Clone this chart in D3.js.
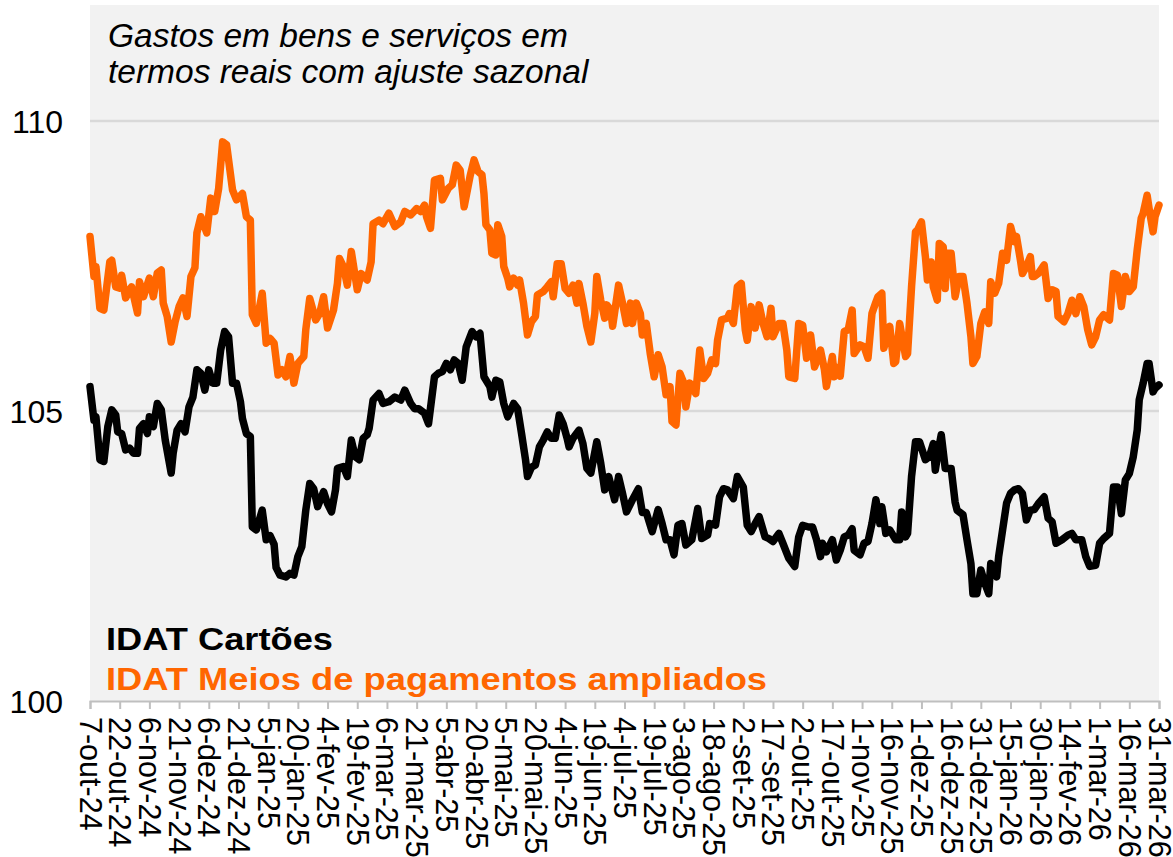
<!DOCTYPE html>
<html>
<head>
<meta charset="utf-8">
<script src="https://cdn.jsdelivr.net/npm/d3@7"></script>
<style>
	body { margin: 0; background: #ffffff; }
	text { font-family: "Liberation Sans", Arial, sans-serif; }
</style>
</head>
<body>
<div id="chart"></div>
<script>

// days counted from 7-out-24
const startDate = new Date(2024, 9, 7);
const endDate = new Date(2026, 2, 31);

const tickLabels = ["7-out-24", "22-out-24", "6-nov-24", "21-nov-24", "6-dez-24", "21-dez-24",
	"5-jan-25", "20-jan-25", "4-fev-25", "19-fev-25", "6-mar-25", "21-mar-25", "5-abr-25",
	"20-abr-25", "5-mai-25", "20-mai-25", "4-jun-25", "19-jun-25", "4-jul-25", "19-jul-25",
	"3-ago-25", "18-ago-25", "2-set-25", "17-set-25", "2-out-25", "17-out-25", "1-nov-25",
	"16-nov-25", "1-dez-25", "16-dez-25", "31-dez-25", "15-jan-26", "30-jan-26", "14-fev-26",
	"1-mar-26", "16-mar-26", "31-mar-26"];
const tickStep = 15;
const yTicks = [100, 105, 110];

const titleLines = ["Gastos em bens e serviços em", "termos reais com ajuste sazonal"];
const seriesNames = ["IDAT Cartões", "IDAT Meios de pagamentos ampliados"];

// IDAT Meios de pagamentos ampliados
const orangeDays = [0, 2, 3, 5, 7, 10, 11, 13, 15, 16, 18, 21, 24, 25, 27, 30, 32, 34, 36, 37,
	39, 41, 43, 45, 47, 49, 51, 53, 54, 56, 59, 61, 63, 65, 67, 69, 72, 74, 77, 79,
	81, 82, 84, 87, 89, 91, 93, 95, 97, 99, 101, 103, 105, 108, 109, 111, 114, 116, 118, 120,
	123, 125, 126, 128, 130, 132, 135, 137, 140, 142, 143, 146, 148, 151, 154, 157, 159, 162, 165, 167,
	169, 170, 172, 174, 177, 178, 181, 183, 185, 187, 189, 192, 194, 196, 198, 199, 200, 202, 203, 205,
	206, 208, 209, 211, 212, 214, 216, 217, 219, 221, 223, 225, 226, 229, 231, 233, 234, 236, 238, 240,
	242, 244, 246, 247, 249, 251, 253, 255, 256, 258, 260, 261, 263, 264, 267, 269, 271, 273, 274, 276,
	278, 279, 281, 283, 285, 287, 289, 291, 293, 294, 296, 298, 300, 301, 303, 306, 308, 310, 312, 314,
	316, 317, 319, 322, 323, 325, 327, 329, 331, 332, 334, 336, 338, 340, 342, 344, 345, 348, 350, 352,
	353, 356, 358, 360, 362, 364, 366, 369, 371, 372, 375, 376, 378, 379, 381, 383, 385, 386, 389, 391,
	393, 395, 397, 398, 400, 401, 404, 406, 407, 409, 412, 413, 415, 417, 418, 420, 422, 423, 425, 426,
	428, 429, 431, 432, 433, 435, 437, 439, 441, 443, 445, 446, 448, 450, 452, 454, 455, 457, 459, 461,
	463, 465, 467, 468, 470, 471, 473, 475, 476, 477, 479, 482, 484, 486, 488, 489, 492, 494, 496, 498,
	500, 502, 504, 506, 508, 510, 512, 515, 517, 519, 521, 523, 525, 527, 529, 531, 532, 534, 535, 537,
	538, 540];
const orangeValues = [108.01, 107.32, 107.49, 106.77, 106.74, 107.57, 107.60, 107.14, 107.12, 107.34,
	106.95, 107.14, 106.69, 107.23, 106.97, 107.29, 106.97, 107.38, 107.43, 106.86,
	106.63, 106.19, 106.54, 106.80, 106.95, 106.63, 107.32, 107.47, 108.07, 108.35,
	108.07, 108.67, 108.44, 108.84, 109.64, 109.59, 108.81, 108.64, 108.75, 108.35,
	108.29, 106.66, 106.51, 107.03, 106.17, 106.25, 106.17, 105.62, 105.71, 105.59,
	105.94, 105.48, 105.82, 105.94, 106.40, 106.94, 106.57, 106.68, 106.97, 106.43,
	106.74, 107.20, 107.63, 107.49, 107.17, 107.75, 107.09, 107.37, 107.26, 107.57,
	108.23, 108.29, 108.23, 108.41, 108.18, 108.26, 108.44, 108.38, 108.49, 108.44,
	108.55, 108.35, 108.15, 108.98, 109.01, 108.64, 108.84, 108.90, 109.24, 109.15,
	108.52, 109.05, 109.33, 109.13, 109.07, 108.75, 108.21, 108.12, 107.72, 107.69,
	108.21, 108.01, 107.49, 107.29, 107.14, 107.29, 107.17, 107.26, 106.86, 106.31,
	106.54, 106.63, 107.00, 107.06, 107.14, 107.23, 106.97, 107.54, 107.54, 107.11,
	107.03, 107.17, 106.86, 107.20, 106.86, 106.46, 106.19, 106.68, 107.32, 106.91,
	106.60, 106.83, 106.74, 106.46, 107.17, 106.86, 106.51, 106.86, 106.51, 106.86,
	106.68, 106.31, 106.51, 105.99, 105.59, 105.97, 105.76, 105.28, 105.42, 104.82,
	104.76, 105.65, 105.48, 105.07, 105.48, 105.30, 106.05, 105.56, 105.65, 105.88,
	105.82, 106.22, 106.57, 106.60, 106.68, 106.51, 107.14, 107.20, 106.40, 106.22,
	106.80, 106.43, 106.83, 106.51, 106.28, 106.77, 106.28, 106.51, 106.51, 106.05,
	105.59, 105.56, 106.51, 106.48, 105.91, 106.31, 105.76, 106.05, 105.71, 105.42,
	105.94, 105.59, 105.75, 105.60, 106.37, 106.40, 106.74, 105.99, 106.14, 106.11,
	105.91, 106.68, 106.88, 106.97, 107.03, 106.08, 106.46, 105.82, 105.85, 106.51,
	105.94, 105.99, 107.14, 108.09, 108.12, 108.26, 107.66, 107.26, 107.57, 107.14,
	106.91, 107.89, 107.83, 107.11, 107.72, 107.72, 106.97, 107.32, 107.32, 106.86,
	106.28, 105.82, 105.94, 106.51, 106.71, 106.51, 107.23, 107.03, 107.20, 107.72,
	107.60, 108.18, 107.92, 108.01, 107.60, 107.37, 107.49, 107.66, 107.32, 107.32,
	107.37, 107.52, 106.94, 107.09, 107.06, 106.63, 106.54, 106.68, 106.91, 106.68,
	106.97, 106.80, 106.40, 106.14, 106.28, 106.57, 106.66, 106.57, 107.37, 107.34,
	106.80, 107.32, 107.06, 107.14, 107.78, 108.32, 108.41, 108.72, 108.49, 108.09,
	108.35, 108.55];

// IDAT Cartões
const blackDays = [0, 2, 3, 5, 7, 9, 11, 13, 14, 16, 18, 20, 22, 24, 25, 27, 29, 30, 32, 34,
	36, 38, 41, 42, 44, 46, 48, 50, 52, 54, 56, 58, 60, 62, 64, 66, 68, 70, 72, 74,
	76, 77, 79, 81, 82, 84, 87, 89, 91, 93, 94, 96, 99, 101, 103, 105, 107, 109, 111, 113,
	115, 118, 120, 122, 124, 125, 128, 130, 132, 134, 136, 138, 140, 141, 143, 146, 148, 151, 154, 157,
	159, 162, 164, 166, 169, 171, 174, 176, 178, 180, 182, 184, 186, 188, 190, 193, 195, 197, 199, 202,
	203, 205, 207, 209, 211, 214, 216, 218, 220, 221, 223, 225, 227, 229, 231, 233, 235, 237, 239, 241,
	242, 244, 247, 249, 251, 253, 256, 258, 260, 262, 265, 267, 269, 271, 274, 277, 279, 281, 284, 287,
	289, 291, 293, 295, 297, 299, 301, 304, 307, 309, 312, 313, 316, 318, 320, 322, 325, 327, 330, 332,
	334, 336, 338, 341, 343, 345, 348, 350, 353, 356, 358, 360, 363, 365, 367, 369, 370, 372, 375, 377,
	379, 381, 383, 385, 386, 389, 391, 393, 395, 397, 399, 400, 402, 404, 407, 409, 410, 412, 413, 415,
	417, 419, 422, 424, 426, 427, 429, 430, 432, 435, 437, 438, 441, 443, 445, 446, 448, 450, 452, 454,
	455, 458, 459, 461, 463, 465, 467, 469, 471, 473, 475, 477, 479, 482, 484, 486, 488, 491, 494, 496,
	498, 501, 503, 505, 508, 510, 512, 515, 517, 519, 521, 523, 525, 527, 529, 530, 532, 534, 535, 537,
	538, 540];
const blackValues = [105.42, 104.84, 104.90, 104.16, 104.13, 104.73, 105.02, 104.93, 104.64, 104.61,
	104.33, 104.36, 104.27, 104.27, 104.70, 104.78, 104.61, 104.90, 104.73, 105.13,
	105.02, 104.50, 103.93, 104.27, 104.67, 104.78, 104.64, 105.07, 105.24, 105.71,
	105.65, 105.36, 105.71, 105.48, 105.48, 106.05, 106.37, 106.28, 105.48, 105.48,
	105.16, 104.87, 104.61, 104.56, 103.00, 102.95, 103.29, 102.78, 102.85, 102.70,
	102.30, 102.17, 102.14, 102.20, 102.17, 102.49, 102.66, 103.29, 103.75, 103.66,
	103.35, 103.61, 103.40, 103.26, 103.64, 104.01, 104.04, 103.87, 104.50, 104.21,
	104.16, 104.53, 104.59, 104.70, 105.19, 105.30, 105.13, 105.16, 105.24, 105.19,
	105.36, 105.13, 105.04, 105.04, 104.96, 104.78, 105.59, 105.65, 105.68, 105.82,
	105.71, 105.88, 105.82, 105.53, 106.10, 106.37, 106.28, 106.34, 105.59, 105.42,
	105.24, 105.53, 105.50, 105.13, 104.90, 105.13, 105.04, 104.61, 104.16, 103.87,
	104.03, 104.07, 104.38, 104.50, 104.64, 104.53, 104.53, 104.93, 104.78, 104.53,
	104.38, 104.53, 104.67, 104.44, 104.01, 103.93, 104.47, 104.10, 103.64, 103.87,
	103.47, 103.87, 103.58, 103.26, 103.47, 103.66, 103.25, 103.25, 102.92, 103.30,
	103.06, 102.78, 102.78, 102.52, 103.03, 103.06, 102.69, 102.78, 103.32, 102.80,
	102.86, 103.06, 103.03, 103.52, 103.66, 103.64, 103.49, 103.87, 103.69, 103.03,
	102.92, 103.06, 103.18, 102.83, 102.80, 102.75, 102.89, 102.72, 102.46, 102.32,
	102.83, 103.03, 103.00, 103.00, 102.78, 102.49, 102.72, 102.57, 102.78, 102.43,
	102.60, 102.83, 102.86, 102.97, 102.60, 102.52, 102.72, 102.75, 103.06, 103.47,
	103.06, 103.35, 102.89, 102.95, 102.78, 102.78, 103.26, 102.83, 102.89, 103.87,
	104.47, 104.47, 104.16, 104.21, 104.44, 103.98, 104.41, 104.59, 104.01, 104.01,
	103.43, 103.29, 103.21, 102.78, 102.37, 101.85, 101.85, 102.26, 102.03, 101.85,
	102.37, 102.14, 102.49, 102.95, 103.41, 103.58, 103.64, 103.66, 103.58, 103.12,
	103.29, 103.30, 103.40, 103.52, 103.15, 103.09, 102.72, 102.78, 102.86, 102.89,
	102.78, 102.78, 102.49, 102.32, 102.34, 102.72, 102.80, 102.89, 103.69, 103.69,
	103.23, 103.81, 103.92, 104.21, 104.67, 105.19, 105.48, 105.82, 105.82, 105.33,
	105.39, 105.45];

const width = 1173;
const height = 857;
const margin = {top: 5, right: 14, bottom: 156, left: 90};

const xScale = d3.scaleTime()
	.domain([startDate, endDate])
	.range([margin.left, width - margin.right]);
const yScale = d3.scaleLinear()
	.domain([100, 112])
	.range([height - margin.bottom, margin.top]);

const toPoints = (days, values) =>
	days.map((d, i) => [d3.timeDay.offset(startDate, d), values[i]]);

let svg = d3.select("#chart")
	.append("svg")
	.attr("width", width)
	.attr("height", height);

// plot background
svg.append("rect")
	.attr("x", margin.left)
	.attr("y", margin.top)
	.attr("width", width - margin.left - margin.right)
	.attr("height", height - margin.top - margin.bottom)
	.attr("fill", "#f2f2f2");

// gridlines + y labels
svg.append("g").selectAll("line").data(yTicks.slice(1)).enter()
	.append("line")
		.attr("x1", margin.left)
		.attr("x2", width - margin.right)
		.attr("y1", d => yScale(d))
		.attr("y2", d => yScale(d))
		.attr("stroke", "#d9d9d9")
		.attr("stroke-width", 2.5);

svg.append("g").selectAll("text").data(yTicks).enter()
	.append("text")
		.attr("x", 63)
		.attr("y", d => yScale(d))
		.attr("dy", "0.36em")
		.attr("text-anchor", "end")
		.style("font-size", "32px")
		.attr("fill", "#000")
		.text(d => d);

// x axis with vertical labels
const tickDates = tickLabels.map((t, i) => d3.timeDay.offset(startDate, i * tickStep));

const xAxis = svg.append("g")
	.attr("transform", `translate(0, ${yScale(100)})`)
	.call(d3.axisBottom(xScale)
		.tickValues(tickDates)
		.tickSize(8)
		.tickFormat((d, i) => tickLabels[i]));

xAxis.select(".domain").attr("stroke", "#bfbfbf").attr("stroke-width", 2);
xAxis.selectAll(".tick line").attr("stroke", "#bfbfbf").attr("stroke-width", 2);
xAxis.selectAll(".tick text")
	.attr("transform", "rotate(90)")
	.attr("x", 16)
	.attr("y", 0)
	.attr("dy", "0.36em")
	.attr("text-anchor", "start")
	.style("font-size", "30.5px")
	.style("font-family", "'Liberation Sans', Arial, sans-serif")
	.attr("fill", "#000");

const makeLine = d3.line()
	.x(d => xScale(d[0]))
	.y(d => yScale(d[1]));

const series = [
	{points: toPoints(orangeDays, orangeValues), color: "#ff6600"},
	{points: toPoints(blackDays, blackValues), color: "#000000"}
];

svg.append("g").selectAll("path").data(series).enter()
	.append("path")
		.style("fill", "none")
		.attr("stroke", d => d.color)
		.attr("stroke-width", 7.5)
		.attr("stroke-linejoin", "round")
		.attr("stroke-linecap", "round")
		.attr("d", d => makeLine(d.points));

// title
svg.append("g").selectAll("text").data(titleLines).enter()
	.append("text")
		.attr("x", 108)
		.attr("y", (d, i) => 47 + i * 36)
		.style("font-size", "33.5px")
		.style("font-style", "italic")
		.attr("fill", "#000")
		.text(d => d);

// legend
const legendColors = ["#000000", "#ff6600"];
const legendWidths = [227, 661];
svg.append("g").selectAll("text").data(seriesNames).enter()
	.append("text")
		.attr("x", 106)
		.attr("y", (d, i) => 650 + i * 40)
		.style("font-size", "32px")
		.style("font-weight", "bold")
		.attr("textLength", (d, i) => legendWidths[i])
		.attr("lengthAdjust", "spacingAndGlyphs")
		.attr("fill", (d, i) => legendColors[i])
		.text(d => d);

</script>
</body>
</html>
